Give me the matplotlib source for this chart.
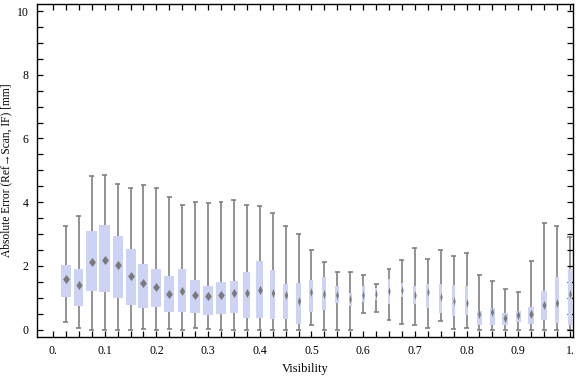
import matplotlib
matplotlib.use("Agg")
from matplotlib import pyplot as plt
import numpy as np

# box positions (visibility bins)
vis = [0.025, 0.05, 0.075, 0.1, 0.125, 0.15, 0.175, 0.2, 0.225, 0.25,
       0.275, 0.3, 0.325, 0.35, 0.375, 0.4, 0.425, 0.45, 0.475, 0.5,
       0.525, 0.55, 0.575, 0.6, 0.625, 0.65, 0.675, 0.7, 0.725, 0.75,
       0.775, 0.8, 0.825, 0.85, 0.875, 0.9, 0.925, 0.95, 0.975, 1.0]

# whisker ends, quartiles and centre marker [mm]
lo = [0.24, 0.05, 0.0, 0.0, 0.0, 0.0, 0.03, 0.0, 0.03, 0.0,
      0.06, 0.03, 0.0, 0.0, 0.0, 0.0, 0.0, 0.0, 0.0, 0.15,
      0.0, 0.0, 0.0, 0.53, 0.55, 0.29, 0.18, 0.14, 0.05, 0.27,
      0.02, 0.06, 0.0, 0.0, 0.0, 0.0, 0.0, 0.0, 0.0, 0.0]
q1 = [1.04, 0.73, 1.22, 1.17, 0.98, 0.76, 0.67, 0.70, 0.56, 0.54,
      0.51, 0.45, 0.48, 0.51, 0.36, 0.36, 0.32, 0.32, 0.18, 0.57,
      0.61, 0.83, 0.73, 0.86, 0.92, 0.79, 1.03, 0.79, 0.67, 0.51,
      0.43, 0.45, 0.14, 0.14, 0.15, 0.23, 0.17, 0.29, 0.20, 0.14]
q3 = [2.03, 1.91, 3.10, 3.29, 2.94, 2.54, 2.07, 1.91, 1.69, 1.91,
      1.57, 1.38, 1.50, 1.54, 1.82, 2.16, 1.88, 1.44, 1.47, 1.57,
      1.66, 1.38, 1.16, 1.38, 1.32, 1.60, 1.47, 1.38, 1.44, 1.43,
      1.41, 1.38, 0.60, 0.69, 0.53, 0.60, 0.72, 1.22, 1.66, 1.91]
hi = [3.25, 3.56, 4.83, 4.85, 4.57, 4.46, 4.54, 4.46, 4.16, 3.91,
      4.02, 3.97, 4.00, 4.07, 3.91, 3.88, 3.66, 3.25, 3.00, 2.50,
      2.12, 1.81, 1.81, 1.71, 1.43, 1.90, 2.18, 2.56, 2.22, 2.50,
      2.31, 2.40, 1.70, 1.53, 1.28, 1.18, 2.15, 3.34, 3.25, 2.91]
mid = [1.58, 1.41, 2.11, 2.19, 2.02, 1.68, 1.47, 1.35, 1.13, 1.20,
       1.09, 1.06, 1.08, 1.14, 1.14, 1.23, 1.14, 1.08, 0.89, 1.17,
       1.13, 1.08, 0.95, 1.08, 1.12, 1.20, 1.25, 1.10, 1.17, 1.04,
       0.90, 0.85, 0.49, 0.56, 0.37, 0.45, 0.49, 0.77, 0.84, 1.13]
# box widths (x units)
box_w = [0.0193, 0.0174, 0.0219, 0.0213, 0.0193, 0.0193, 0.0193, 0.0193, 0.0193, 0.0155,
         0.0193, 0.0193, 0.0188, 0.0155, 0.0135, 0.0135, 0.0097, 0.0097, 0.0091, 0.0077,
         0.0077, 0.0077, 0.0058, 0.0058, 0.0039, 0.0052, 0.0044, 0.0064, 0.0058, 0.0064,
         0.0058, 0.0064, 0.0083, 0.0091, 0.0110, 0.0103, 0.0122, 0.0110, 0.0091, 0.0077]

plt.rcParams['font.family'] = ['Liberation Serif', 'DejaVu Serif']

fig = plt.figure(figsize=(5.76, 3.77), dpi=100)
ax = fig.add_axes([37 / 576, 40 / 377, 536 / 576, 333 / 377])

box_col = '#ccd3f5'
line_col = '#808080'

ax.vlines(vis, lo, hi, color=line_col, lw=1.2, zorder=1)
ax.hlines(lo, np.array(vis) - 0.0048, np.array(vis) + 0.0048, color=line_col, lw=1.2, zorder=1)
ax.hlines(hi, np.array(vis) - 0.0048, np.array(vis) + 0.0048, color=line_col, lw=1.2, zorder=1)
ax.bar(vis, np.array(q3) - np.array(q1), bottom=q1, width=box_w,
       color=box_col, edgecolor='none', zorder=2)

# diamond marker, narrower for narrow boxes
for x, m, w in zip(vis, mid, box_w):
    ratio = min(0.75, w / 0.0193 * 0.75)
    ratio = max(ratio, 0.25)
    verts = [(-ratio, 0), (0, 1), (ratio, 0), (0, -1), (-ratio, 0)]
    ax.plot([x], [m], marker=verts, markersize=6.5, color='#7a7a7a',
            markeredgewidth=0, linestyle='none', zorder=3)

ax.set_xlim(-0.031, 1.006)
ax.set_ylim(-0.23, 10.22)

ax.set_xticks(np.arange(0, 1.0001, 0.025))
ax.set_xticklabels(['0.' if i == 0 else ('1.' if i == 40 else (f'{i * 0.025:.1f}' if i % 4 == 0 else ''))
                    for i in range(41)])
ax.set_yticks(np.arange(0, 10.01, 0.5))
ax.set_yticklabels([f'{int(v)}' if v % 2 == 0 else '' for v in np.arange(0, 10.01, 0.5)])
ax.tick_params(direction='in', length=4, width=0.9, top=True, right=True,
               labelsize=8.5, pad=6)
for s in ax.spines.values():
    s.set_linewidth(1.0)

ax.set_xlabel('Visibility', fontsize=9, labelpad=4)
ax.set_ylabel('Absolute Error (Ref\u2192Scan, IF) [mm]', fontsize=8.3, labelpad=3)

fig.savefig('out.png', dpi=100)
